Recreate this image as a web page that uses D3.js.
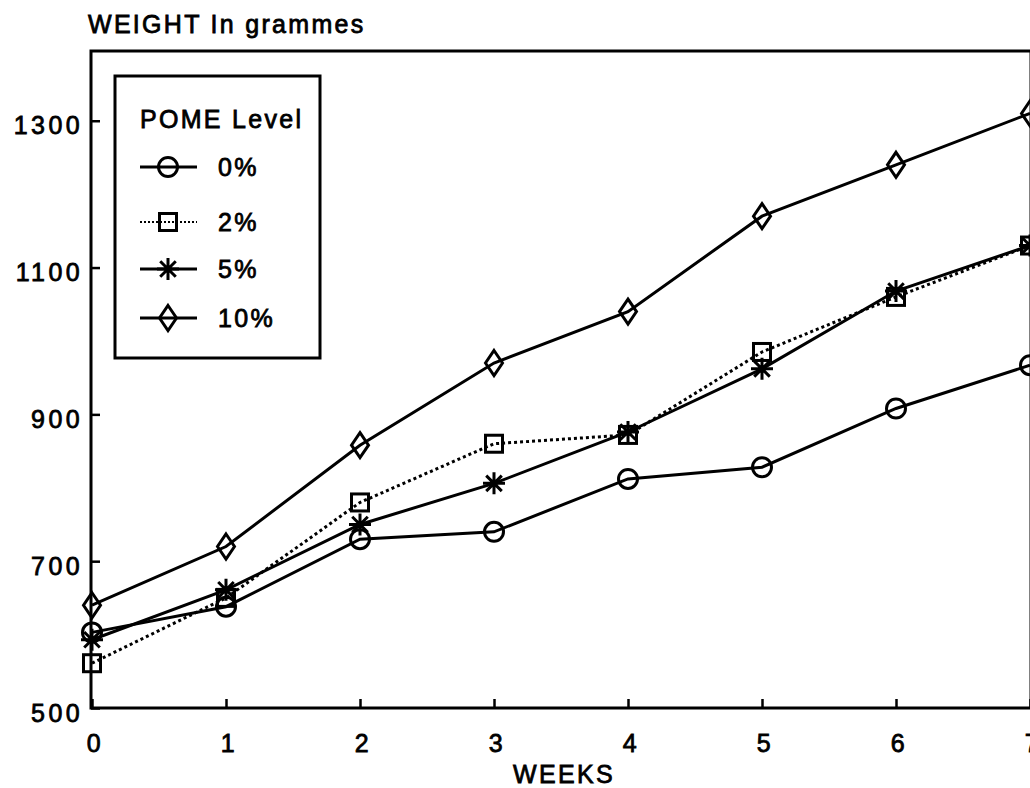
<!DOCTYPE html>
<meta charset="utf-8">
<script src="https://d3js.org/d3.v7.min.js"></script>
<style>
  body { margin: 0; background: #fff; }
  text { font-family: "Liberation Sans", Arial, sans-serif; font-size: 25px; letter-spacing: 2.3px; fill: #000; stroke: #000; stroke-width: 0.8px; }
</style>
<div id="my_dataviz"></div>
<script>

// data
var weeks = [0, 1, 2, 3, 4, 5, 6, 7];
var levels = ["0%", "2%", "5%", "10%"];
var pome0  = [603, 638, 730, 740, 812, 828, 908, 967];
var pome2  = [561, 650, 780, 860, 872, 985, 1060, 1130];
var pome5  = [593, 661, 750, 806, 876, 962, 1068, 1130];
var pome10 = [640, 720, 858, 970, 1040, 1170, 1240, 1310];
var yTicks = [500, 700, 900, 1100, 1300];
var xTicks = [0, 1, 2, 3, 4, 5, 6, 7];

var series = [
  {name: levels[0], values: pome0,  marker: "circle",  dash: null},
  {name: levels[1], values: pome2,  marker: "square",  dash: "3,3"},
  {name: levels[2], values: pome5,  marker: "star",    dash: null},
  {name: levels[3], values: pome10, marker: "diamond", dash: null}
];

var W = 1030, H = 788;
var svg = d3.select("#my_dataviz")
  .append("svg")
    .attr("width", W)
    .attr("height", H);

var x = d3.scaleLinear().domain([0, 7]).range([92, 1030]);
var y = d3.scaleLinear().domain([500, 1395]).range([708, 51]);

// frame
svg.append("rect")
  .attr("x", x(0) - 1)
  .attr("y", y(1395))
  .attr("width", x(7) - x(0) + 2)
  .attr("height", y(500) - y(1395))
  .style("fill", "none")
  .style("stroke", "#000")
  .style("stroke-width", 3);

// y axis
var yAxis = svg.append("g")
  .attr("transform", "translate(" + (x(0) - 1) + ",0)")
  .call(d3.axisLeft(y).tickValues(yTicks).tickFormat(d3.format("d")).tickSizeInner(-9).tickSizeOuter(0).tickPadding(8));
yAxis.select(".domain").remove();
yAxis.selectAll("line").style("stroke", "#000").style("stroke-width", 2.5);
yAxis.selectAll("text").attr("dy", "0.52em").style("letter-spacing", "3.4px");
yAxis.attr("font-size", null).attr("font-family", null);

// x axis
var xAxis = svg.append("g")
  .attr("transform", "translate(0," + y(500) + ")")
  .call(d3.axisBottom(x).tickValues(xTicks).tickFormat(d3.format("d")).tickSizeInner(-9).tickSizeOuter(0).tickPadding(26));
xAxis.select(".domain").remove();
xAxis.selectAll("line").style("stroke", "#000").style("stroke-width", 2.5);
xAxis.selectAll("text").attr("dx", "0.09em");
xAxis.attr("font-size", null).attr("font-family", null);

// titles
svg.append("text")
  .attr("x", 88)
  .attr("y", 33)
  .text("WEIGHT In grammes");

svg.append("text")
  .attr("x", 564)
  .attr("y", 783)
  .attr("text-anchor", "middle")
  .text("WEEKS");

// marker drawing
function drawMarker(g, type) {
  if (type === "circle") {
    g.append("circle").attr("r", 9.5);
  } else if (type === "square") {
    g.append("rect").attr("x", -8.5).attr("y", -8.5).attr("width", 17).attr("height", 17);
  } else if (type === "diamond") {
    g.append("path").attr("d", "M0,-12.5L8.5,0L0,12.5L-8.5,0Z");
  } else if (type === "star") {
    var r = 11, s = r * Math.SQRT1_2;
    g.append("path").attr("d",
      "M0," + (-r) + "L0," + r +
      "M" + (-r) + ",0L" + r + ",0" +
      "M" + (-s) + "," + (-s) + "L" + s + "," + s +
      "M" + (-s) + "," + s + "L" + s + "," + (-s));
  }
  g.selectAll("circle,rect,path")
    .style("fill", "none")
    .style("stroke", "#000")
    .style("stroke-width", 3);
}

// lines
var line = d3.line()
  .x(function(d, i) { return x(weeks[i]); })
  .y(function(d) { return y(d); });

svg.selectAll("myLines")
  .data(series)
  .enter()
  .append("path")
    .attr("d", function(d) { return line(d.values); })
    .style("fill", "none")
    .style("stroke", "#000")
    .style("stroke-width", 3)
    .style("stroke-dasharray", function(d) { return d.dash; });

// points
series.forEach(function(s) {
  s.values.forEach(function(v, i) {
    var g = svg.append("g")
      .attr("transform", "translate(" + x(weeks[i]) + "," + y(v) + ")");
    drawMarker(g, s.marker);
  });
});

// legend
var legend = svg.append("g");
legend.append("rect")
  .attr("x", 115)
  .attr("y", 76)
  .attr("width", 205)
  .attr("height", 282)
  .style("fill", "#fff")
  .style("stroke", "#000")
  .style("stroke-width", 3);

legend.append("text")
  .attr("x", 140)
  .attr("y", 128)
  .text("POME Level");

var rowY = [167, 222, 269, 318];
series.forEach(function(s, i) {
  legend.append("line")
    .attr("x1", 140).attr("x2", 197)
    .attr("y1", rowY[i]).attr("y2", rowY[i])
    .style("stroke", "#000")
    .style("stroke-width", s.dash ? 2 : 3)
    .style("stroke-dasharray", s.dash ? "2,2" : null);
  var g = legend.append("g").attr("transform", "translate(168," + rowY[i] + ")");
  drawMarker(g, s.marker);
  legend.append("text")
    .attr("x", 218)
    .attr("y", rowY[i] + 9)
    .text(s.name);
});

</script>
